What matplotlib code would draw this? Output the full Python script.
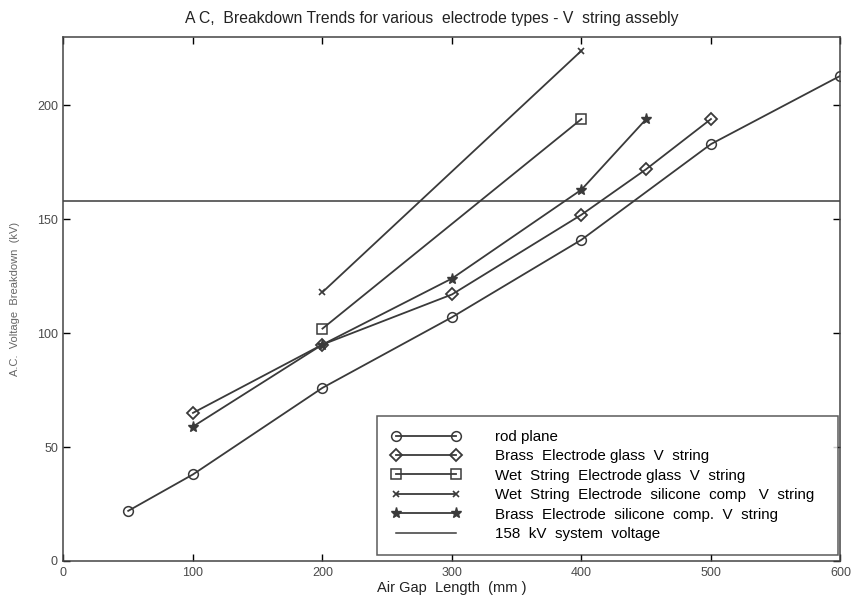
import matplotlib
matplotlib.use("Agg")
import matplotlib.pyplot as plt

plt.rcParams['font.family'] = ['Liberation Sans', 'DejaVu Sans']

# Air gap length (mm) and AC breakdown voltage (kV) for each electrode type
rod_gap = [50, 100, 200, 300, 400, 500, 600]
rod_kv = [22, 38, 76, 107, 141, 183, 213]

brass_glass_gap = [100, 200, 300, 400, 450, 500]
brass_glass_kv = [65, 95, 117, 152, 172, 194]

wet_glass_gap = [200, 400]
wet_glass_kv = [102, 194]

wet_silicone_gap = [200, 400]
wet_silicone_kv = [118, 224]

brass_silicone_gap = [100, 200, 300, 400, 450]
brass_silicone_kv = [59, 95, 124, 163, 194]

system_voltage_kv = 158

x_ticks = [0, 100, 200, 300, 400, 500, 600]
y_ticks = [0, 50, 100, 150, 200]

line_col = '#3a3a3a'
fig = plt.figure(figsize=(8.53, 6.07), dpi=100)
ax = fig.add_axes([0.0744, 0.0758, 0.9109, 0.8632])

ax.plot(rod_gap, rod_kv, color=line_col, lw=1.3, marker='o', ms=7,
        mfc='none', mec=line_col, mew=1.1, label='rod plane')
ax.plot(brass_glass_gap, brass_glass_kv, color=line_col, lw=1.3, marker='D', ms=6,
        mfc='none', mec=line_col, mew=1.3, label='Brass  Electrode glass  V  string')
ax.plot(wet_glass_gap, wet_glass_kv, color=line_col, lw=1.3, marker='s', ms=7,
        mfc='none', mec=line_col, mew=1.1, label='Wet  String  Electrode glass  V  string')
ax.plot(wet_silicone_gap, wet_silicone_kv, color=line_col, lw=1.3, marker='x', ms=4,
        mec=line_col, mew=1.2, label='Wet  String  Electrode  silicone  comp   V  string')
ax.plot(brass_silicone_gap, brass_silicone_kv, color=line_col, lw=1.3, marker='*', ms=8,
        mfc=line_col, mec=line_col, label='Brass  Electrode  silicone  comp.  V  string')
ax.axhline(system_voltage_kv, color=line_col, lw=1.1, label='158  kV  system  voltage')

ax.set_xlim(0, 600)
ax.set_ylim(0, 230)
ax.set_xticks(x_ticks)
ax.set_yticks(y_ticks)
ax.tick_params(direction='in', top=True, right=True, length=5, width=1,
               labelsize=9, labelcolor='#4a4a4a', pad=4)
for s in ax.spines.values():
    s.set_color('#444444')
    s.set_linewidth(1.1)

ax.set_xlabel('Air Gap  Length  (mm )', fontsize=10.5, color='#222222', labelpad=2)
ax.set_ylabel('A.C.  Voltage  Breakdown  (kV)', fontsize=8, color='#666666', labelpad=12)
ax.set_title('A C,  Breakdown Trends for various  electrode types - V  string assebly',
             fontsize=11.3, color='#222222', pad=10, x=0.474)

leg = ax.legend(loc='lower right', bbox_to_anchor=(0.404, 0.012, 0.593, 0.27),
                mode='expand', numpoints=2, handlelength=4.6, handletextpad=2.3,
                fontsize=10.9, frameon=True, fancybox=False, borderpad=0.9,
                labelspacing=0.36, borderaxespad=0)
leg.get_frame().set_edgecolor('#333333')
leg.get_frame().set_linewidth(1.1)

fig.savefig('out.png', dpi=100)
